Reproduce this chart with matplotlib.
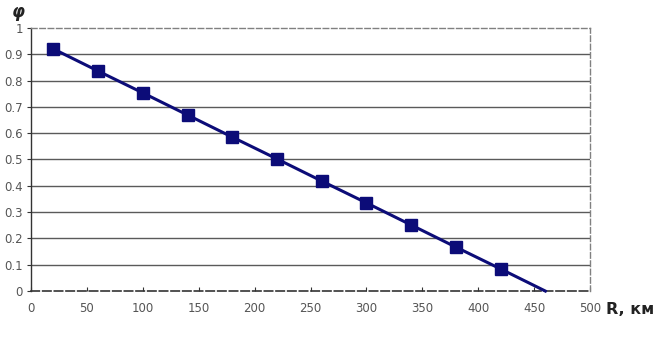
import matplotlib
matplotlib.use("Agg")
import matplotlib.pyplot as plt
import numpy as np

# R, km and phi values
r_km = [20, 60, 100, 140, 180, 220, 260, 300, 340, 380, 420, 460]
phi = [0.92, 0.836, 0.753, 0.669, 0.585, 0.502, 0.418, 0.335, 0.251, 0.167, 0.084, 0.0]
x_ticks = [0, 50, 100, 150, 200, 250, 300, 350, 400, 450, 500]
y_ticks = [0, 0.1, 0.2, 0.3, 0.4, 0.5, 0.6, 0.7, 0.8, 0.9, 1]

navy = "#0c0c78"
grey = "#808080"

fig = plt.figure(figsize=(6.6, 3.4), dpi=100)
ax = fig.add_axes([0.047, 0.144, 0.847, 0.774])

ax.plot(r_km, phi, color=navy, lw=2.2, marker="s", ms=9,
        markevery=list(range(len(r_km) - 1)), zorder=3, clip_on=False)

ax.set_xlim(0, 500)
ax.set_ylim(0, 1)
ax.set_xticks(x_ticks)
ax.set_yticks(y_ticks)
ax.set_xticklabels([str(t) for t in x_ticks])
ax.set_yticklabels(["0"] + [f"{t:g}" for t in y_ticks[1:]])
ax.tick_params(axis="both", labelsize=8.5, labelcolor="#555555", color="#333333",
               length=3, width=0.8)
ax.tick_params(axis="x", direction="in", pad=8)
ax.tick_params(axis="y", direction="out", pad=3)

ax.yaxis.grid(True, color="#5a5a5a", lw=1.0)
ax.set_axisbelow(True)
# the 0 and 1 lines are drawn by the (dashed) frame, not the grid
gl = ax.yaxis.get_gridlines()
gl[0].set_visible(False)
gl[-1].set_visible(False)

ax.spines["left"].set_color("#333333")
ax.spines["left"].set_linewidth(1.0)
ax.spines["bottom"].set_color("#333333")
ax.spines["bottom"].set_linewidth(1.2)
ax.spines["bottom"].set_linestyle((0, (5, 2)))
for side in ["top", "right"]:
    ax.spines[side].set_color(grey)
    ax.spines[side].set_linewidth(1.0)
    ax.spines[side].set_linestyle((0, (4, 2)))

fig.text(0.018, 0.965, "φ", fontsize=12, fontweight="bold", style="italic",
         ha="left", va="center", color="#222222")
fig.text(0.918, 0.09, "R, км", fontsize=11.5, fontweight="bold",
         ha="left", va="center", color="#222222")

fig.savefig("out.png", dpi=100)
